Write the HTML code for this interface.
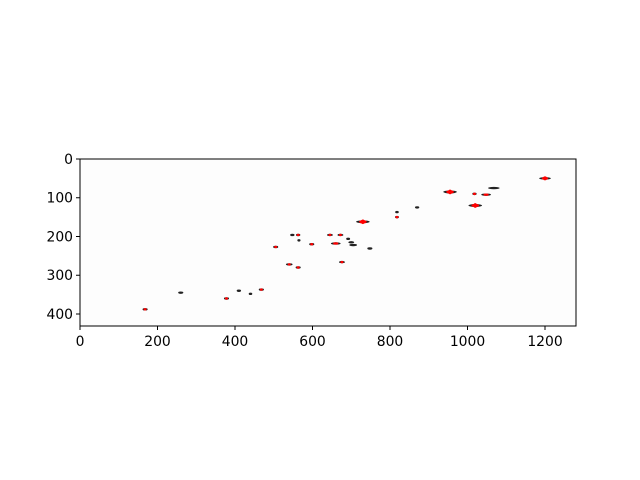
<!DOCTYPE html>
<html><head><meta charset="utf-8"><style>
body{margin:0;background:#fff;width:640px;height:480px;overflow:hidden;font-family:"DejaVu Sans","Liberation Sans",sans-serif}
svg{display:block}
</style></head><body>
<svg id="c" width="640" height="480">
</svg>
<script>
const xs=[168,260,378,410,440,468,505,540,563,548,563,565,598,645,660,672,692,700,705,730,748,676,818,818,870,955,1018,1048,1068,1020,1200];
const ys=[388,345,360,340,348,337,227,272,280,196,196,210,220,196,218,196,206,215,222,162,231,266,137,150,125,85,90,92,75,120,50];
const ws=[8,8,8,6,4,8,8,12,8,6,6,3,8,10,20,10,5,10,15,30,8,10,4,5,6,30,6,20,25,30,25];
const reds=[1,0,1,0,0,1,1,1,1,0,1,0,1,1,1,1,0,0,0,1,0,1,0,1,0,1,1,1,0,1,1];
const xticks=[0,200,400,600,800,1000,1200];
const yticks=[0,100,200,300,400];
const L=80,T=159,R=576,B=326,XMAX=1280,YMAX=431;
const sx=v=>L+(v/XMAX)*(R-L), sy=v=>T+(v/YMAX)*(B-T);
const svg=document.getElementById('c');const NS='http://www.w3.org/2000/svg';
function mk(t,a){const e=document.createElementNS(NS,t);for(const k in a)e.setAttribute(k,a[k]);svg.appendChild(e);return e;}
const bg=mk('rect',{x:L,y:T,width:R-L,height:B-T,fill:'#fdfdfd'});


for(let i=0;i<xs.length;i++){
  const w=ws[i]*0.3875;
  const o=mk('ellipse',{cx:sx(xs[i]),cy:sy(ys[i]),rx:w/2+1,ry:Math.max(1.2,w/8),fill:'#222'});
  
  
  if(reds[i]){
    const r=mk('ellipse',{cx:sx(xs[i]),cy:sy(ys[i]),rx:Math.max(1.5,w/3),ry:Math.max(1.2,w/7),fill:'#f00'});
    
    
    if(ws[i]>=25){
      const v=mk('ellipse',{cx:sx(xs[i]),cy:sy(ys[i]),rx:2,ry:w/5,fill:'#f00'});
      
      
    }
  }
}
const fr=mk('rect',{x:L,y:T,width:R-L,height:B-T,fill:'none',stroke:'#000','stroke-width':1});


xticks.forEach(v=>{
  const x=sx(v);
  const t=mk('line',{x1:x,x2:x,y1:B,y2:B+4,stroke:'#000'});
  
  
  const l=mk('text',{x:x,y:B+20,'text-anchor':'middle','font-size':13.9});
  l.textContent=v;
  
  
});
yticks.forEach(v=>{
  const y=sy(v);
  const t=mk('line',{x1:L-4,x2:L,y1:y,y2:y,stroke:'#000'});
  
  
  const l=mk('text',{x:L-7,y:y+5,'text-anchor':'end','font-size':13.9});
  l.textContent=v;
  
  
});
</script>
</body></html>
